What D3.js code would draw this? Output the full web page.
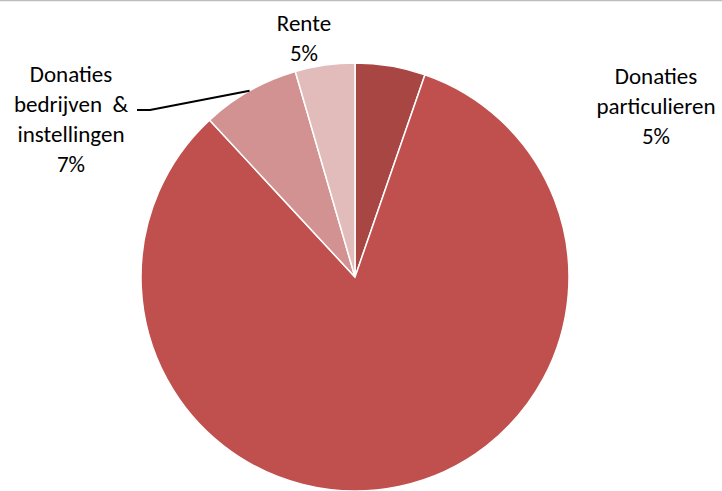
<!DOCTYPE html>
<html lang="nl">
<head>
<meta charset="utf-8">
<style>
  body { margin: 0; background: #fff; }
  svg text { font-family: Carlito, Calibri, Lato, "Open Sans", sans-serif; fill: #000; white-space: pre; }
</style>
</head>
<body>
<div id="chart"></div>
<script src="https://d3js.org/d3.v7.min.js"></script>
<script>
// data (clockwise from 12 o'clock)
var categories = ["Donaties particulieren", "Overig", "Donaties bedrijven & instellingen", "Rente"];
var values = [5.3, 82.8, 7.4, 4.5];
var percentLabels = ["5%", "83%", "7%", "5%"];
var labelLines = [["Donaties", "particulieren"], null, ["Donaties", "bedrijven  &", "instellingen"], ["Rente"]];
var colors = ["#a84644", "#c0504d", "#d29291", "#e1bcbb"];

var width = 722, height = 491,
    cx = 355, cy = 277, radius = 214, fontSize = 23, lineH = 30;

// label anchor (centre of first line) per slice
var labelPos = [[656, 76], null, [71, 74], [304, 23]];

var svg = d3.select("#chart").append("svg")
    .attr("width", width)
    .attr("height", height);

svg.append("line")
    .attr("x1", 0).attr("x2", width)
    .attr("y1", 0.5).attr("y2", 0.5)
    .attr("stroke", "#bdbdbd")
    .attr("stroke-width", 1.5);

var pie = d3.pie().sort(null).value(function (d) { return d; });
var arcs = pie(values);
var arc = d3.arc().innerRadius(0).outerRadius(radius);

var g = svg.append("g").attr("transform", "translate(" + cx + "," + cy + ")");

g.selectAll("path")
    .data(arcs)
    .enter()
    .append("path")
    .attr("d", arc)
    .attr("fill", function (d, i) { return colors[i]; })
    .attr("stroke", "#fff")
    .attr("stroke-width", 1.5);

// leader line for "Donaties bedrijven & instellingen"
var mid = (arcs[2].startAngle + arcs[2].endAngle) / 2;
var ex = cx + radius * Math.sin(mid), ey = cy - radius * Math.cos(mid);
svg.append("polyline")
    .attr("points", [[137, 110], [150, 110], [ex, ey]].map(function (p) { return p.join(","); }).join(" "))
    .attr("fill", "none")
    .attr("stroke", "#000")
    .attr("stroke-width", 2);

labelLines.forEach(function (lines, i) {
    if (!lines) return;
    var all = lines.concat([percentLabels[i]]);
    var t = svg.append("text")
        .attr("text-anchor", "middle")
        .attr("font-size", fontSize + "px");
    all.forEach(function (s, j) {
        t.append("tspan")
            .attr("x", labelPos[i][0])
            .attr("y", labelPos[i][1] + j * lineH)
            .attr("dy", "0.35em")
            .text(s);
    });
});
</script>
</body>
</html>
